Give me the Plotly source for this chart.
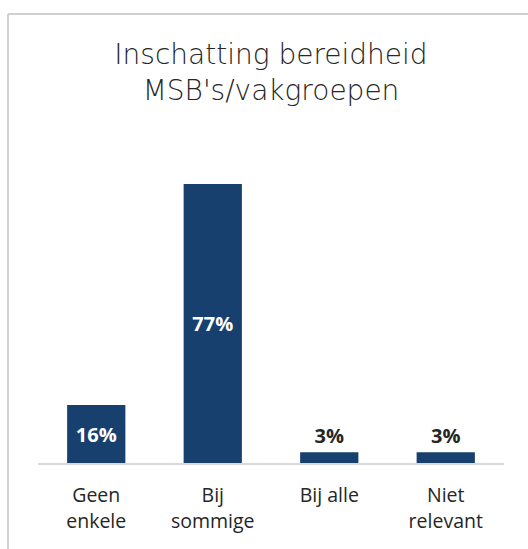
import plotly.graph_objects as go

categories = ["Geen<br>enkele", "Bij<br>sommige", "Bij alle", "Niet<br>relevant"]
values = [16, 77, 3, 3]
labels = ["16%", "77%", "3%", "3%"]
title_text = "Inschatting bereidheid<br>MSB's/vakgroepen"

bar_color = "#18406F"
text_dark = "#262626"
border_color = "#d0d0d0"

positions = ["inside" if v > 10 else "outside" for v in values]

fig = go.Figure(go.Bar(
    x=categories, y=values, text=labels,
    textposition=positions,
    insidetextanchor="middle",
    marker=dict(color=bar_color, line=dict(width=0)),
    insidetextfont=dict(family="Open Sans", size=20, color="white", weight="bold"),
    outsidetextfont=dict(family="Open Sans", size=20, color=text_dark, weight="bold"),
    cliponaxis=False,
    hoverinfo="skip",
))

fig.update_layout(
    width=528, height=549,
    margin=dict(l=38, r=24, t=155, b=86),
    paper_bgcolor="white", plot_bgcolor="white",
    bargap=0.5,
    showlegend=False,
    title=dict(text=title_text, x=0.5, xref="paper", xanchor="center",
               y=0.884, yanchor="top",
               font=dict(family="DejaVu Sans", size=28, color=text_dark, weight=300)),
    xaxis=dict(showline=True, linecolor="#d9d9d9", linewidth=1.5,
               showgrid=False, ticks="", ticklabelstandoff=14,
               tickfont=dict(family="Open Sans", size=19.5, color=text_dark)),
    yaxis=dict(range=[0, 85], visible=False, showgrid=False, zeroline=False),
    shapes=[
        dict(type="line", xref="paper", yref="paper",
             x0=-0.0644, x1=1.2, y0=1.458, y1=1.458,
             line=dict(color=border_color, width=2)),
        dict(type="line", xref="paper", yref="paper",
             x0=-0.0644, x1=-0.0644, y0=-0.5, y1=1.458,
             line=dict(color=border_color, width=2)),
    ],
)

fig.write_html("out.html", config={"displayModeBar": False},
               post_script="document.body.style.margin='0';")
